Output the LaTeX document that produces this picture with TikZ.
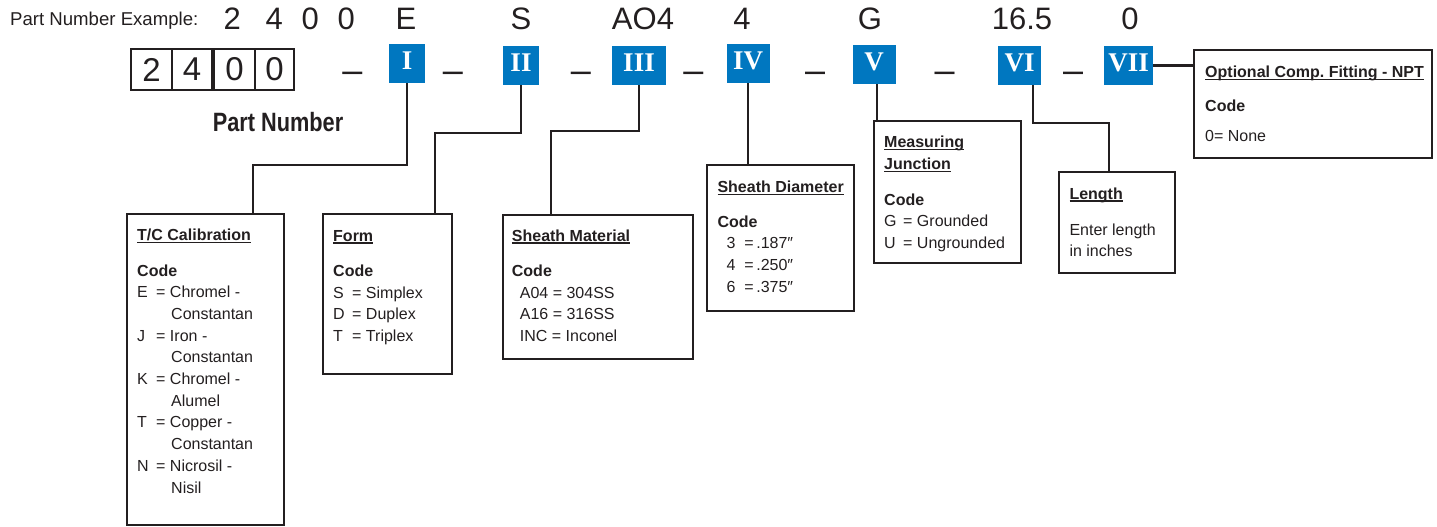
\documentclass[tikz,border=0pt]{standalone}
\usepackage{fontspec}
\setmainfont{Liberation Sans}
\newfontfamily\romanf{Liberation Serif}
\usepackage{graphicx}
\definecolor{cblue}{RGB}{0,119,192}
\definecolor{ink}{RGB}{35,31,32}
\newcommand\myul[1]{\setbox0\hbox{#1}\rlap{\rule[-2.7pt]{\wd0}{1.4pt}}\box0}
\newcommand\kv[2]{\makebox[19pt][l]{#1}=\ #2}
\frenchspacing
\tikzset{
  rbox/.style={fill=cblue, text=white, minimum height=39pt, inner sep=0pt, outer sep=0pt,
    font=\romanf\bfseries\fontsize{27}{27}\selectfont, text height=18pt, text depth=5.6pt},
  dbox/.style={draw=ink, line width=2.8pt, minimum height=41pt, inner sep=0pt, outer sep=0pt,
    text=ink, font=\fontsize{33}{33}\selectfont},
  cbox/.style={draw=ink, line width=2.6pt, inner sep=0pt, outer sep=0pt, anchor=north west},
  conn/.style={draw=ink, line width=2.4pt},
  btext/.style={anchor=base west, inner sep=0pt, text=ink, font=\fontsize{16}{21.7}\selectfont},
  exval/.style={anchor=base, inner sep=0pt, text=ink, font=\fontsize{31}{31}\selectfont},
  sepdash/.style={anchor=base, inner sep=0pt, text=ink, font=\fontsize{36}{36}\selectfont}
}
\begin{document}
\begin{tikzpicture}[x=1pt,y=-1pt]
\useasboundingbox (0,0) rectangle (1437,527);

% example row
\node[anchor=base west, inner sep=0pt, text=ink, font=\fontsize{18.6}{18.6}\selectfont] (exlabel) at (10,25.7) {Part Number Example:};
\node[exval, anchor=base west] (ex0) at (223.4,30) {2\hspace{24.8pt}4\hspace{18.8pt}0\hspace{18.8pt}0};
\node[exval] (ex1) at (406,30) {E};
\node[exval] (ex2) at (521,30) {S};
\node[exval] (ex3) at (643,30) {AO4};
\node[exval] (ex4) at (742,30) {4};
\node[exval] (ex5) at (870,30) {G};
\node[exval] (ex6) at (1022,30) {16.5};
\node[exval] (ex7) at (1130,30) {0};

% part number boxes
\node[dbox, minimum width=41pt] (d1) at (151.5,69.5) {2};
\node[dbox, minimum width=40pt] (d2) at (192,69.5) {4};
\node[dbox, minimum width=41pt] (d3) at (234.5,69.5) {0};
\node[dbox, minimum width=39pt] (d4) at (274.5,69.5) {0};
\node[anchor=base west, inner sep=0pt, text=ink, font=\bfseries\fontsize{26.5}{26.5}\selectfont] (pn) at (212.7,131.7) {\scalebox{0.82}[1]{Part Number}};

% roman boxes
\node[rbox, minimum width=36pt] (I) at (407,63.5) {I};
\node[rbox, minimum width=36pt] (II) at (521,65.5) {II};
\node[rbox, minimum width=54pt] (III) at (639,65.5) {III};
\node[rbox, minimum width=43pt] (IV) at (748,63.5) {IV};
\node[rbox, minimum width=43pt] (V) at (874,64.5) {V};
\node[rbox, minimum width=43pt] (VI) at (1019.5,65.5) {VI};
\node[rbox, minimum width=49pt] (VII) at (1128.5,65.5) {VII};

% separators
\node[sepdash] (s1) at (352.5,82.5) {–};
\node[sepdash] (s2) at (453,82.5) {–};
\node[sepdash] (s3) at (581,82.5) {–};
\node[sepdash] (s4) at (693.5,82) {–};
\node[sepdash] (s5) at (815,82.5) {–};
\node[sepdash] (s6) at (944.5,82.5) {–};
\node[sepdash] (s7) at (1073,82.5) {–};

% code boxes
\node[cbox, minimum width=157pt, minimum height=311pt] (tc) at (127,214) {};
\node[cbox, minimum width=129pt, minimum height=160pt] (form) at (323,214) {};
\node[cbox, minimum width=190pt, minimum height=144pt] (sm) at (503,215) {};
\node[cbox, minimum width=147pt, minimum height=146pt] (sd) at (707,165) {};
\node[cbox, minimum width=147pt, minimum height=142pt] (mj) at (874,121) {};
\node[cbox, minimum width=116pt, minimum height=101pt] (len) at (1059,172) {};
\node[cbox, minimum width=238pt, minimum height=108pt] (opt) at (1194,50) {};

% texts
\node[btext] (tct) at (137,240.7) {\begin{tabular}[t]{@{}l@{}}
\bfseries\myul{T/C Calibration}\\[13.6pt]
\bfseries Code\\
\kv{E}{Chromel -}\\
\hspace*{34pt}Constantan\\
\kv{J}{Iron -}\\
\hspace*{34pt}Constantan\\
\kv{K}{Chromel -}\\
\hspace*{34pt}Alumel\\
\kv{T}{Copper -}\\
\hspace*{34pt}Constantan\\
\kv{N}{Nicrosil -}\\
\hspace*{34pt}Nisil
\end{tabular}};

\node[btext] (formt) at (333,241) {\begin{tabular}[t]{@{}l@{}}
\bfseries\myul{Form}\\[13.6pt]
\bfseries Code\\
\kv{S}{Simplex}\\
\kv{D}{Duplex}\\
\kv{T}{Triplex}
\end{tabular}};

\node[btext] (smt) at (511.7,241) {\begin{tabular}[t]{@{}l@{}}
\bfseries\myul{Sheath Material}\\[13.6pt]
\bfseries Code\\
\hspace*{8pt}A04 = 304SS\\
\hspace*{8pt}A16 = 316SS\\
\hspace*{8pt}INC = Inconel
\end{tabular}};

\node[btext] (sdt) at (717.3,192.5) {\begin{tabular}[t]{@{}l@{}}
\bfseries\myul{Sheath Diameter}\\[12.8pt]
\bfseries Code\\
\hspace*{9pt}\makebox[18pt][l]{3}=\hspace{2.5pt}.187″\\
\hspace*{9pt}\makebox[18pt][l]{4}=\hspace{2.5pt}.250″\\
\hspace*{9pt}\makebox[18pt][l]{6}=\hspace{2.5pt}.375″
\end{tabular}};

\node[btext] (mjt) at (884,147.5) {\begin{tabular}[t]{@{}l@{}}
\bfseries\myul{Measuring}\\
\bfseries\myul{Junction}\\[14.3pt]
\bfseries Code\\
\kv{G}{Grounded}\\
\kv{U}{Ungrounded}
\end{tabular}};

\node[btext] (lent) at (1069.3,199) {\begin{tabular}[t]{@{}l@{}}
\bfseries\myul{Length}\\[14.3pt]
Enter length\\
in inches
\end{tabular}};

\node[btext] (optt) at (1205,77.3) {\begin{tabular}[t]{@{}l@{}}
\bfseries\myul{Optional Comp. Fitting - NPT}\\[13pt]
\bfseries Code\\[8pt]
0= None
\end{tabular}};

% connectors
\draw[conn] (I.south) -- ++(0,82) -| ([xshift=126pt]tc.north west);
\draw[conn] (II.south) -- ++(0,48) -| ([xshift=112pt]form.north west);
\draw[conn] (III.south) -- ++(0,46) -| ([xshift=48pt]sm.north west);
\draw[conn] (IV.south) -- (IV.south |- sd.north);
\draw[conn] ([xshift=3pt]V.south) -- ([xshift=3pt]V.south |- mj.north);
\draw[conn] ([xshift=13.5pt]VI.south) -- ++(0,38) -| ([xshift=50pt]len.north west);
\draw[conn] (VII.east) -- (VII.east -| opt.west);
\end{tikzpicture}
\end{document}
